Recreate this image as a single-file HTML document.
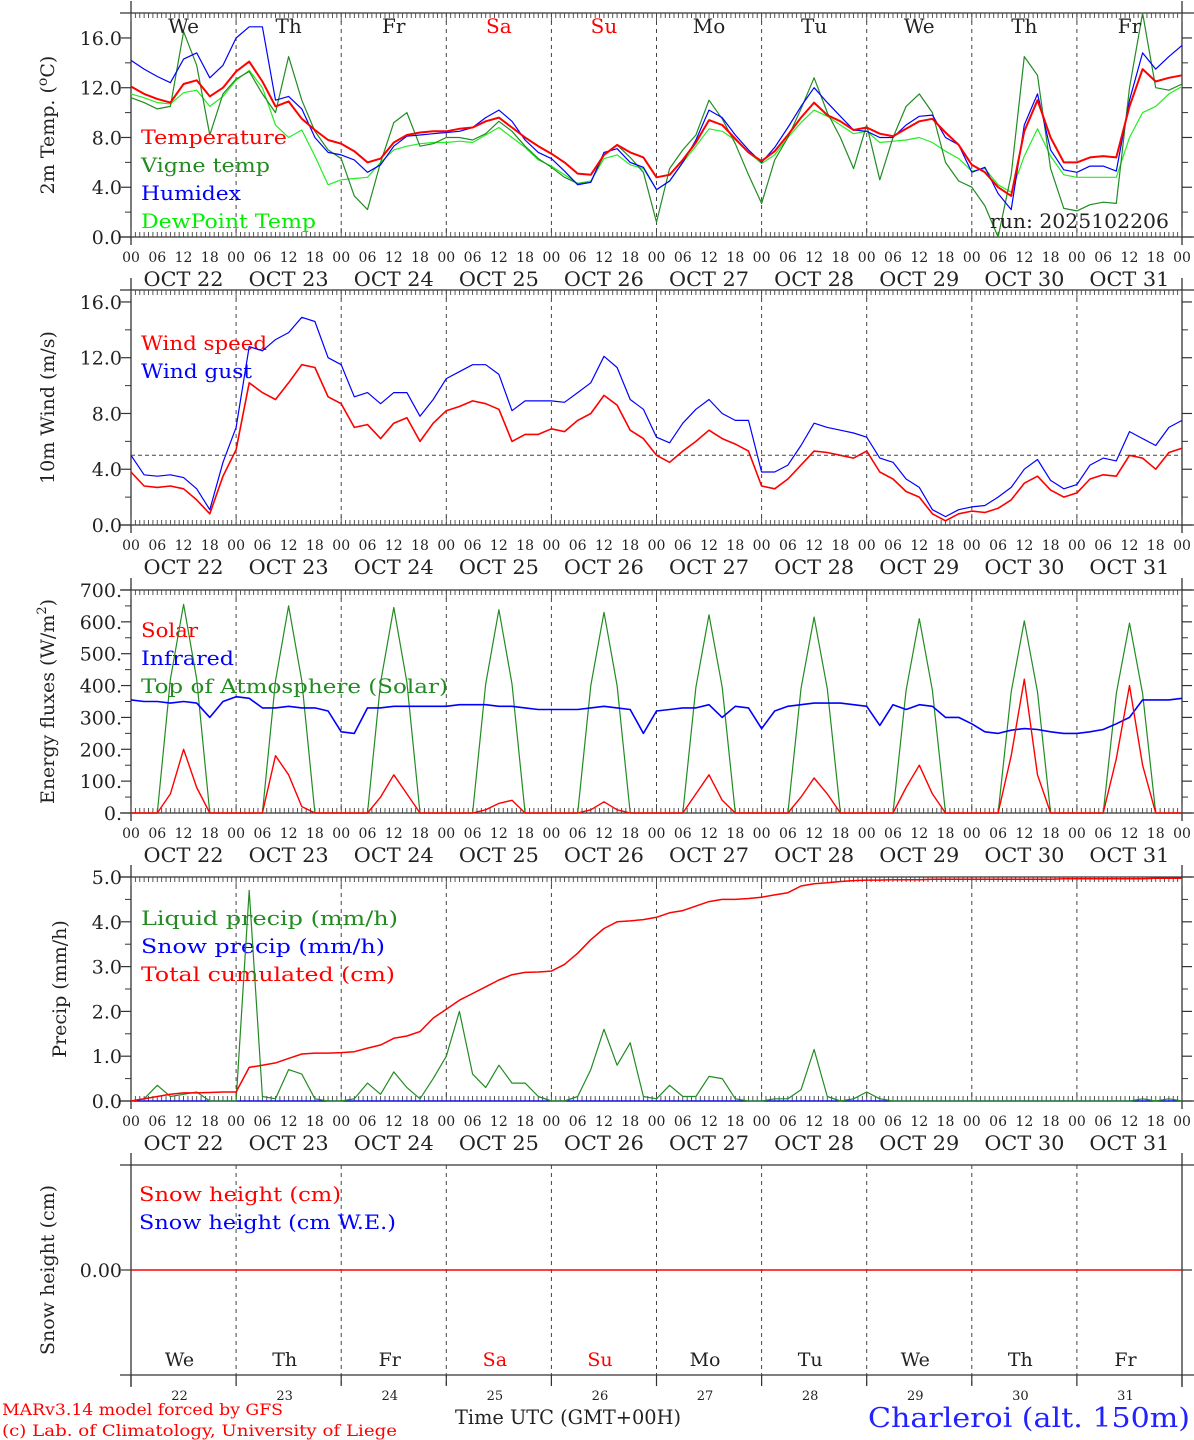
<!DOCTYPE html>
<html><head><meta charset="utf-8"><style>
html,body{margin:0;padding:0;background:#fff;}
svg{display:block;font-family:"DejaVu Serif","Liberation Serif",serif;}
</style></head><body>
<svg id="chart" width="1194" height="1440" viewBox="0 0 1194 1440" xmlns="http://www.w3.org/2000/svg"></svg>
<script>
// ---- data (3-hourly, Oct 22 00 UTC → Nov 1 00 UTC, 81 points) ----
const dayNames = ["We","Th","Fr","Sa","Su","Mo","Tu","We","Th","Fr"];
const dayNumbers = ["22","23","24","25","26","27","28","29","30","31"];
const hourLabels = ["00","06","12","18"];
const tempTicks = [0,4,8,12,16];
const windTicks = [0,4,8,12,16];
const energyTicks = [0,100,200,300,400,500,600,700];
const precipTicks = [0,1,2,3,4,5];

const temperature = [12.1,11.5,11.1,10.8,12.3,12.6,11.3,12.0, 13.3,14.1,12.5,10.5,10.9,9.5,8.6,7.8, 7.5,6.9,6.0,6.3,7.6,8.2,8.4,8.5, 8.5,8.7,8.8,9.3,9.6,8.8,8.0,7.3, 6.7,6.0,5.1,5.0,6.6,7.4,6.8,6.4, 4.8,5.0,6.2,7.6,9.4,9.0,7.9,6.8, 6.1,6.9,8.2,9.6,10.8,9.8,9.3,8.6, 8.8,8.3,8.1,8.7,9.3,9.5,8.4,7.4, 5.8,5.2,4.0,3.3,8.5,11.0,8.0,6.0, 6.0,6.4,6.5,6.4,10.5,13.5,12.5,12.8, 13.0];
const vigneTemp = [11.2,10.8,10.3,10.5,16.5,13.8,8.2,11.5, 12.7,13.3,11.5,10.0,14.5,11.0,8.5,7.0, 6.3,3.3,2.2,6.0,9.2,10.0,7.3,7.5, 8.0,8.0,7.8,8.3,9.3,8.5,7.3,6.3, 5.6,4.8,4.3,4.4,6.6,7.4,6.4,5.2, 1.2,5.5,7.0,8.2,11.0,9.5,7.5,5.0, 2.7,6.2,8.0,10.3,12.8,10.0,8.0,5.5, 9.0,4.6,8.0,10.5,11.5,10.0,6.0,4.5, 4.0,2.5,0.0,5.0,14.5,13.0,5.5,2.3, 2.1,2.6,2.8,2.7,12.0,18.0,12.0,11.8, 12.3];
const humidex = [14.2,13.5,12.9,12.4,14.3,14.8,12.8,13.8, 16.0,16.9,16.9,11.0,11.3,10.3,8.0,6.8, 6.6,6.2,5.2,5.8,7.3,8.1,8.2,8.3, 8.4,8.5,8.8,9.6,10.2,9.3,7.8,6.8, 6.3,5.3,4.2,4.4,6.8,7.1,6.0,5.6, 3.8,4.5,6.0,7.8,10.2,9.6,8.2,7.0, 6.0,7.2,8.8,10.5,12.0,10.8,9.7,8.6, 8.5,8.0,8.0,9.0,9.7,9.8,8.0,7.4, 5.2,5.6,3.5,2.2,9.0,11.5,7.0,5.4, 5.2,5.7,5.7,5.3,11.0,14.8,13.5,14.5, 15.4];
const dewPoint = [11.5,11.2,10.8,10.7,11.6,11.8,10.5,11.3, 12.6,13.4,12.0,9.0,8.0,8.6,6.5,4.2, 4.6,4.7,4.8,6.0,7.0,7.3,7.5,7.6, 7.6,7.7,7.6,8.2,8.8,8.0,7.2,6.2, 5.7,5.0,4.3,4.5,6.3,6.6,5.8,5.5, 3.8,4.5,6.0,7.3,8.7,8.5,7.8,6.8, 5.9,6.6,8.0,9.2,10.2,9.7,9.0,8.3, 8.5,7.6,7.7,7.8,8.0,7.6,6.9,6.3, 5.3,5.5,4.2,3.6,6.5,8.7,6.5,5.0, 4.8,4.8,4.8,4.8,8.0,10.0,10.5,11.5, 12.1];

const windSpeed = [3.8,2.8,2.7,2.8,2.6,1.8,0.8,3.5, 5.4,10.2,9.5,9.0,10.2,11.5,11.3,9.2, 8.7,7.0,7.2,6.2,7.3,7.7,6.0,7.3, 8.2,8.5,8.9,8.7,8.3,6.0,6.5,6.5, 6.9,6.7,7.5,8.0,9.3,8.6,6.8,6.2, 5.0,4.5,5.3,6.0,6.8,6.2,5.8,5.3, 2.8,2.6,3.3,4.3,5.3,5.2,5.0,4.8, 5.3,3.8,3.3,2.4,2.0,0.8,0.3,0.8, 1.0,0.9,1.2,1.8,3.0,3.5,2.5,2.0, 2.3,3.3,3.6,3.5,5.0,4.8,4.0,5.2, 5.5];
const windGust = [5.0,3.6,3.5,3.6,3.4,2.6,1.1,4.5, 7.0,12.8,12.5,13.3,13.8,14.9,14.6,12.0, 11.5,9.2,9.5,8.7,9.5,9.5,7.8,9.0, 10.5,11.0,11.5,11.5,10.8,8.2,8.9,8.9, 8.9,8.8,9.5,10.2,12.1,11.3,9.0,8.3, 6.3,5.9,7.3,8.3,9.0,8.0,7.5,7.5, 3.8,3.8,4.3,5.7,7.3,7.0,6.8,6.6, 6.3,4.8,4.5,3.3,2.7,1.1,0.6,1.1, 1.3,1.4,2.0,2.7,4.0,4.7,3.2,2.6, 2.9,4.3,4.8,4.6,6.7,6.2,5.7,7.0, 7.5];

const solar = [0,0,0,60,200,80,0,0, 0,0,0,180,120,20,0,0, 0,0,0,50,120,60,0,0, 0,0,0,10,30,40,0,0, 0,0,0,10,35,10,0,0, 0,0,0,60,120,40,0,0, 0,0,0,50,110,60,0,0, 0,0,0,80,150,60,0,0, 0,0,0,180,420,120,0,0, 0,0,0,170,400,150,0,0, 0];
const infrared = [355,350,350,345,350,345,300,350, 365,360,330,330,335,330,330,320, 255,250,330,330,335,335,335,335, 335,340,340,340,335,335,330,325, 325,325,325,330,335,330,325,250, 320,325,330,330,340,300,335,330, 265,320,335,340,345,345,345,340, 335,275,340,325,340,335,300,300, 280,255,250,260,265,262,255,250, 250,255,262,280,300,355,355,355, 360];
const topOfAtmosphere = [0,0,0,420,655,420,0,0, 0,0,0,415,650,415,0,0, 0,0,0,410,645,410,0,0, 0,0,0,405,638,405,0,0, 0,0,0,400,630,400,0,0, 0,0,0,395,622,395,0,0, 0,0,0,390,615,390,0,0, 0,0,0,385,610,385,0,0, 0,0,0,380,603,380,0,0, 0,0,0,375,596,375,0,0, 0];

const liquidPrecip = [0,0.05,0.35,0.1,0.15,0.2,0,0, 0,4.7,0.1,0.05,0.7,0.6,0.05,0, 0,0.05,0.4,0.15,0.65,0.3,0.05,0.5, 1.0,2.0,0.6,0.3,0.8,0.4,0.4,0.1, 0,0,0.1,0.7,1.6,0.8,1.3,0.1, 0.05,0.35,0.1,0.1,0.55,0.5,0.05,0, 0,0.05,0.05,0.25,1.15,0.1,0,0.05, 0.2,0.05,0,0,0,0,0,0, 0,0,0,0,0,0,0,0, 0,0,0,0,0,0.05,0,0.05, 0];
const snowPrecip = new Array(81).fill(0);
const totalCumulated = [0,0.05,0.1,0.15,0.18,0.18,0.19,0.2, 0.2,0.75,0.8,0.85,0.95,1.05,1.07,1.07, 1.08,1.1,1.18,1.25,1.4,1.45,1.55,1.85, 2.05,2.25,2.4,2.55,2.7,2.82,2.87,2.88, 2.9,3.05,3.3,3.6,3.85,4.0,4.02,4.05, 4.1,4.2,4.25,4.35,4.45,4.5,4.5,4.52, 4.55,4.6,4.65,4.8,4.85,4.87,4.9,4.92, 4.93,4.93,4.94,4.94,4.94,4.95,4.95,4.95, 4.95,4.95,4.95,4.95,4.95,4.95,4.95,4.96, 4.96,4.96,4.96,4.96,4.96,4.96,4.97,4.97, 4.97];
const snowHeight = new Array(81).fill(0);

// ---- layout ----
const svg = document.getElementById('chart');
const NS = 'http://www.w3.org/2000/svg';
const X0 = 131, X1 = 1182, HOURS = 240, STEP = 3;
function xScale(h){ return X0 + (X1 - X0) * h / HOURS; }
function el(tag, attrs, parent){ const e = document.createElementNS(NS, tag); for (const k in attrs) e.setAttribute(k, attrs[k]); (parent||svg).appendChild(e); return e; }
function txt(s, attrs, parent){ const e = el('text', attrs, parent); e.textContent = s; return e; }
function fit(e, w){ e.setAttribute('textLength', w); e.setAttribute('lengthAdjust', 'spacingAndGlyphs'); }

function panel(cfg){
  const g = el('g', {});
  
  
  const top = cfg.top, bot = cfg.bot;
  el('line', {x1:120, y1:top, x2:1194, y2:top, stroke:'#333', 'stroke-width':1.3}, g);
  el('line', {x1:120, y1:bot, x2:1194, y2:bot, stroke:'#333', 'stroke-width':1.3}, g);
  el('line', {x1:X0, y1:top-12, x2:X0, y2:bot+(cfg.extendBottom||8), stroke:'#333', 'stroke-width':1.3}, g);
  el('line', {x1:X1, y1:top-12, x2:X1, y2:bot+(cfg.extendBottom||8), stroke:'#333', 'stroke-width':1.3}, g);
  if (!cfg.noHourTicks){
    for (let h=0; h<=HOURS; h++){
      const x = xScale(h), L = h%24===0 ? 9 : 5;
      el('line', {x1:x, y1:top, x2:x, y2:top+L, stroke:'#444', 'stroke-width':0.9}, g);
      el('line', {x1:x, y1:bot, x2:x, y2:bot-L, stroke:'#444', 'stroke-width':0.9}, g);
    }
  }
  for (let d=1; d<10; d++){
    const x = xScale(d*24);
    const l = el('line', {x1:x, y1:top, x2:x, y2:cfg.sepBottom||bot, stroke:'#444', 'stroke-width':1, 'stroke-dasharray':'4,4'}, g);
    
    
  }
  cfg.ticks.forEach((v,i) => {
    const y = cfg.ys(v);
    el('line', {x1:X0-10, y1:y, x2:X0, y2:y, stroke:'#333', 'stroke-width':1.2}, g);
    el('line', {x1:X1, y1:y, x2:X1+10, y2:y, stroke:'#333', 'stroke-width':1.2}, g);
    const t = txt(cfg.fmt(v), {x:122, y:y+7, 'text-anchor':'end', 'font-size':19, fill:'#222'}, g);
    
    
    if (cfg.minor && i < cfg.ticks.length-1){
      const ym = cfg.ys(v + (cfg.ticks[1]-cfg.ticks[0])/2);
      el('line', {x1:X0-6, y1:ym, x2:X0, y2:ym, stroke:'#333', 'stroke-width':1}, g);
      el('line', {x1:X1, y1:ym, x2:X1+6, y2:ym, stroke:'#333', 'stroke-width':1}, g);
    }
  });
  const cy = (top+bot)/2;
  const yt = el('text', {x:0, y:0, transform:`translate(${cfg.titleX||54},${cy}) rotate(-90)`, 'text-anchor':'middle', 'font-size':19, fill:'#222'}, g);
  yt.innerHTML = cfg.title;
  
  
  if (!cfg.noXLabels){
    for (let d=0; d<=10; d++){
      for (let k=0; k<4; k++){
        if (d===10 && k>0) break;
        const h = d*24 + k*6;
        const t = txt(hourLabels[k], {x:xScale(h), y:bot+25, 'text-anchor':'middle', 'font-size':14, fill:'#222'}, g);
        
        
      }
    }
    for (let d=0; d<10; d++){
      const t = txt('OCT ' + dayNumbers[d], {x:xScale(d*24+12), y:bot+49, 'text-anchor':'middle', 'font-size':20, fill:'#222'}, g);
      fit(t, 80);
      
      
    }
  }
  cfg.legend.forEach((L,i) => {
    const t = txt(L[0], {x:cfg.legX||141, y:cfg.legY + i*28, 'font-size':20, fill:L[1]}, g);
    fit(t, L[2]);
    
    
  });
  cfg.series.forEach(S => {
    const pts = S.data.map((v,i) => xScale(i*STEP).toFixed(1) + ',' + cfg.ys(v).toFixed(1)).join(' ');
    const p = el('polyline', {points:pts, fill:'none', stroke:S.color, 'stroke-width':S.w||1.2, 'stroke-linejoin':'round'}, g);
    
    
  });
  return g;
}

panel({name:'temperature-panel', top:13, bot:237, ys:v=>237 - v*12.44, ticks:tempTicks, fmt:v=>v.toFixed(1), minor:true,
  title:'2m Temp. (<tspan font-size="14" dy="-7">o</tspan><tspan dy="7">C)</tspan>', legY:144,
  legend:[['Temperature','#ff0000',146],['Vigne temp','#228b22',129],['Humidex','#0000ff',100],['DewPoint Temp','#00ee00',175]],
  series:[{name:'dewpoint-line',data:dewPoint,color:'#22ee22'},{name:'vigne-temp-line',data:vigneTemp,color:'#228b22'},{name:'humidex-line',data:humidex,color:'#0000ff'},{name:'temperature-line',data:temperature,color:'#ff0000',w:2}]});
dayNames.forEach((n,d) => {
  const t = txt(n, {x:xScale(d*24+12), y:33, 'text-anchor':'middle', 'font-size':20, fill:(d===3||d===4)?'#ff0000':'#222'});
  
  
});
const run = txt('run: 2025102206', {x:990, y:228, 'font-size':20, fill:'#222'});
fit(run, 179);



panel({name:'wind-panel', top:290, bot:525, ys:v=>525 - v*13.94, ticks:windTicks, fmt:v=>v.toFixed(1), minor:true,
  title:'10m Wind (m/s)', legY:350,
  legend:[['Wind speed','#ff0000',126],['Wind gust','#0000ff',111]],
  series:[{name:'wind-gust-line',data:windGust,color:'#0000ff'},{name:'wind-speed-line',data:windSpeed,color:'#ff0000',w:1.6}]});
const ref = el('line', {x1:X0, y1:525-5*13.94, x2:X1, y2:525-5*13.94, stroke:'#444', 'stroke-width':1, 'stroke-dasharray':'4,3'});



panel({name:'energy-panel', top:590, bot:813, ys:v=>813 - v*0.3186, ticks:energyTicks, fmt:v=>v+'.', minor:true,
  title:'Energy fluxes (W/m<tspan font-size="13" dy="-8">2</tspan><tspan dy="8">)</tspan>', legY:637,
  legend:[['Solar','#ff0000',57],['Infrared','#0000ff',93],['Top of Atmosphere (Solar)','#228b22',307]],
  series:[{name:'toa-solar-line',data:topOfAtmosphere,color:'#228b22'},{name:'infrared-line',data:infrared,color:'#0000ff',w:1.6},{name:'solar-line',data:solar,color:'#ff0000',w:1.4}]});

panel({name:'precip-panel', top:877, bot:1101, ys:v=>1101 - v*44.8, ticks:precipTicks, fmt:v=>v.toFixed(1), minor:true,
  title:'Precip (mm/h)', titleX:66, legY:925,
  legend:[['Liquid precip (mm/h)','#228b22',257],['Snow precip (mm/h)','#0000ff',244],['Total cumulated (cm)','#ff0000',254]],
  series:[{name:'snow-precip-line',data:snowPrecip,color:'#0000ff'},{name:'liquid-precip-line',data:liquidPrecip,color:'#228b22'},{name:'total-cumulated-line',data:totalCumulated,color:'#ff0000',w:1.5}]});

panel({name:'snow-panel', top:1165, bot:1375, ys:v=>1270 - v*100, ticks:[0], fmt:v=>v.toFixed(2), noHourTicks:true, noXLabels:true,
  sepBottom:1386, extendBottom:12, title:'Snow height (cm)', legY:1201, legX:139,
  legend:[['Snow height (cm)','#ff0000',202],['Snow height (cm W.E.)','#0000ff',257]],
  series:[{name:'snow-height-line',data:snowHeight,color:'#ff0000',w:1.5}]});
dayNames.forEach((n,d) => {
  const t = txt(n, {x:xScale(d*24+12)-4, y:1366, 'text-anchor':'middle', 'font-size':19, fill:(d===3||d===4)?'#ff0000':'#222'});
  
  
  const t2 = txt(dayNumbers[d], {x:xScale(d*24+12)-4, y:1400, 'text-anchor':'middle', 'font-size':13, fill:'#222'});
  
  
});
for (let d=0; d<=10; d++){ el('line', {x1:xScale(d*24), y1:1375, x2:xScale(d*24), y2:1386, stroke:'#333', 'stroke-width':1.2}); }

const f1 = txt('MARv3.14 model forced by GFS', {x:2, y:1415, 'font-size':16, fill:'#ff0000'});
fit(f1, 281);


const f2 = txt('(c) Lab. of Climatology, University of Liege', {x:2, y:1436, 'font-size':16, fill:'#ff0000'});
fit(f2, 395);


const xt = txt('Time UTC (GMT+00H)', {x:455, y:1424, 'font-size':20, fill:'#222'});
fit(xt, 226);


const loc = txt('Charleroi (alt. 150m)', {x:868, y:1427, 'font-size':27, fill:'#2222ff'});
fit(loc, 322);


</script>
</body></html>
